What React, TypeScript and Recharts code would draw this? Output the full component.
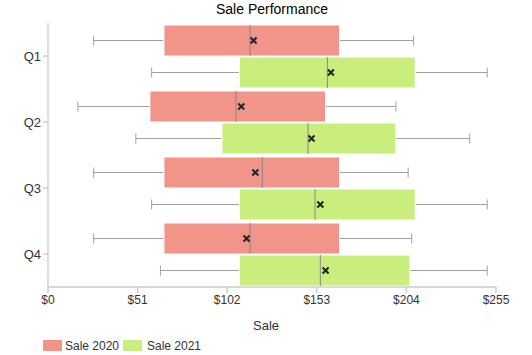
import { ComposedChart, Bar, XAxis, YAxis } from "recharts"

const quarters = ["Q1", "Q2", "Q3", "Q4"]
const xTicks = [0, 51, 102, 153, 204, 255]

// 2020 box stats
const min2020 = [26, 17, 26, 26]
const lower2020 = [66, 58, 66, 66]
const median2020 = [115, 107, 122, 115]
const upper2020 = [166, 158, 166, 166]
const max2020 = [208, 198, 205, 207]
const mean2020 = [117, 110, 118, 113]

// 2021 box stats
const min2021 = [59, 50, 59, 64]
const lower2021 = [109, 99, 109, 109]
const median2021 = [159, 148, 152, 155]
const upper2021 = [209, 198, 209, 206]
const max2021 = [250, 240, 250, 250]
const mean2021 = [161, 150, 155, 158]

const data = quarters.map((q, i) => ({
  quarter: q,
  box2020: [lower2020[i], upper2020[i]],
  box2021: [lower2021[i], upper2021[i]],
  s2020: { min: min2020[i], lo: lower2020[i], med: median2020[i], hi: upper2020[i], max: max2020[i], mean: mean2020[i] },
  s2021: { min: min2021[i], lo: lower2021[i], med: median2021[i], hi: upper2021[i], max: max2021[i], mean: mean2021[i] },
}))

const makeBox = (key: "s2020" | "s2021", fill: string) => (props: any) => {
  const { x, y, width, height, payload } = props
  const s = payload[key]
  const k = width / (s.hi - s.lo)
  const px = (v: number) => x + (v - s.lo) * k
  const cy = y + height / 2
  const xMin = px(s.min)
  const xMax = px(s.max)
  const xMed = px(s.med)
  const xMean = px(s.mean)
  return (
    <g>
      <line x1={xMin} x2={x} y1={cy} y2={cy} stroke="#a0a0a0" />
      <line x1={x + width} x2={xMax} y1={cy} y2={cy} stroke="#a0a0a0" />
      <line x1={xMin} x2={xMin} y1={cy - 5} y2={cy + 5} stroke="#a0a0a0" />
      <line x1={xMax} x2={xMax} y1={cy - 5} y2={cy + 5} stroke="#a0a0a0" />
      <rect x={x} y={y} width={width} height={height} fill={fill} stroke="#fff" strokeWidth={1} />
      <line x1={xMed} x2={xMed} y1={y} y2={y + height} stroke="#888" />
      <path
        d={`M${xMean - 3},${cy - 3}L${xMean + 3},${cy + 3}M${xMean + 3},${cy - 3}L${xMean - 3},${cy + 3}`}
        stroke="#222"
        strokeWidth={2}
      />
    </g>
  )
}

export default function App() {
  return (
    <div style={{ position: "absolute", left: 0, top: 0, width: 532, height: 355, fontFamily: "Liberation Sans, Arial, sans-serif" }}>
      <svg width={532} height={355} style={{ position: "absolute", left: 0, top: 0 }}>
        <text x={272} y={14} textAnchor="middle" fontSize={14} fill="#000">Sale Performance</text>
        <text x={266} y={330} textAnchor="middle" fontSize={13} fill="#333">Sale</text>
        <rect x={43} y={340} width={19} height={11} fill="#f1948a" />
        <text x={65} y={350} fontSize={12} fill="#333">Sale 2020</text>
        <rect x={123} y={340} width={19} height={11} fill="#c9ee7e" />
        <text x={147} y={350} fontSize={12} fill="#333">Sale 2021</text>
      </svg>
      <div style={{ position: "absolute", left: 0, top: 0 }}>
        <ComposedChart
          width={532}
          height={308}
          data={data}
          layout="vertical"
          margin={{ top: 23, right: 36, bottom: 0, left: 0 }}
          barGap={1}
          barCategoryGap={2}
        >
          <XAxis
            type="number"
            domain={[0, 255]}
            ticks={xTicks}
            tickFormatter={(v) => `$${v}`}
            stroke="#ccc"
            strokeWidth={1.5}
            tick={{ fill: "#333", fontSize: 12 }}
            tickSize={6}
            height={21}
            interval={0}
          />
          <YAxis
            type="category"
            dataKey="quarter"
            stroke="#bbb"
            tick={{ fill: "#333", fontSize: 13 }}
            tickSize={5}
            width={48}
          />
          <Bar dataKey="box2020" shape={makeBox("s2020", "#f1948a")} isAnimationActive={false} />
          <Bar dataKey="box2021" shape={makeBox("s2021", "#c9ee7e")} isAnimationActive={false} />
        </ComposedChart>
      </div>
    </div>
  )
}
